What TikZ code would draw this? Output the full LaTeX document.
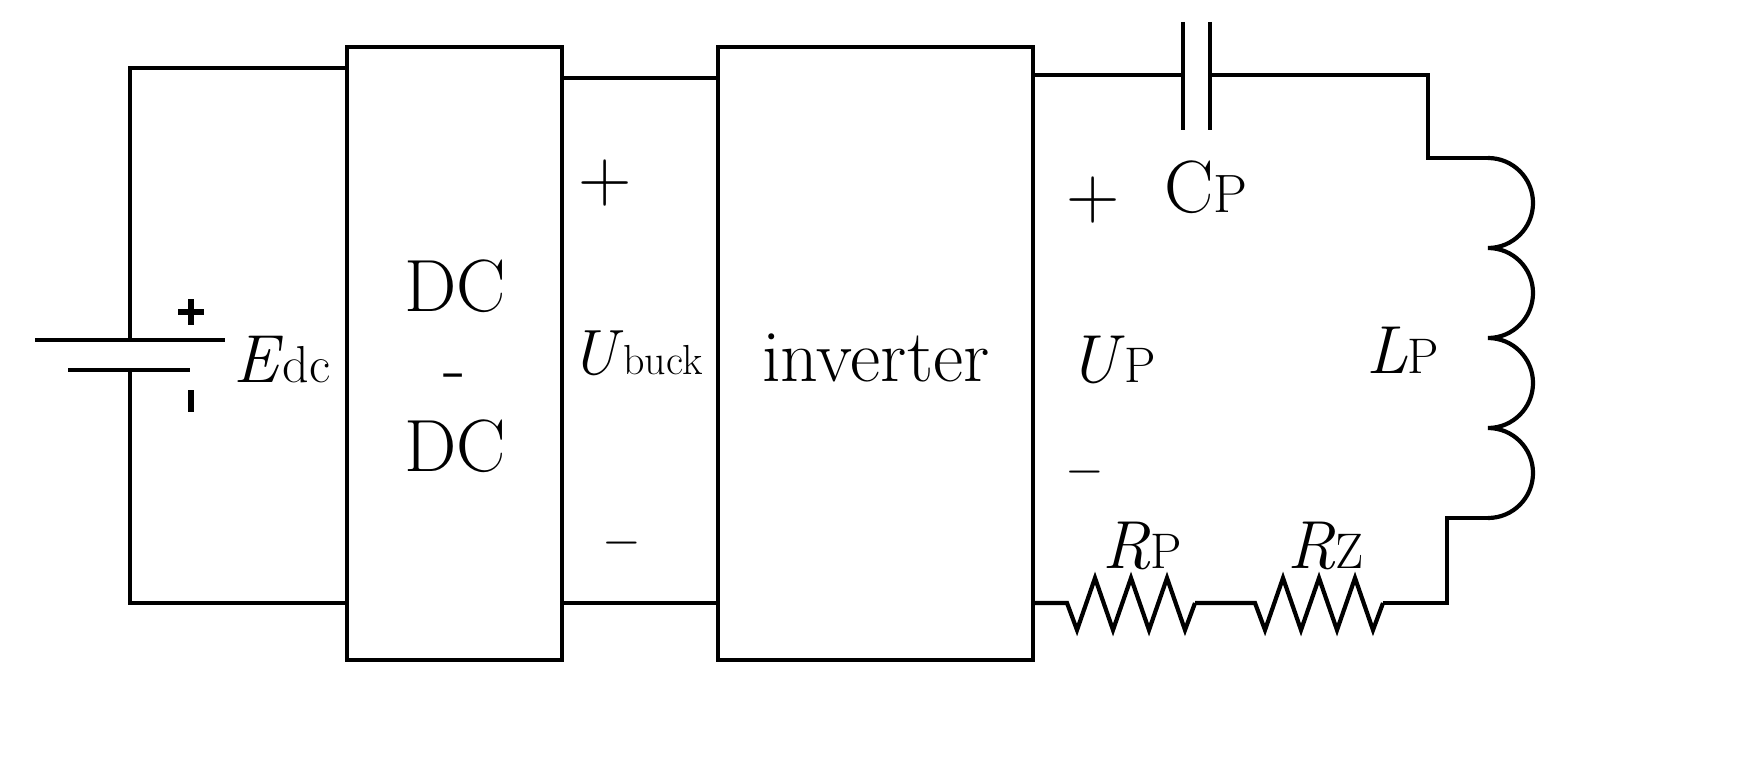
\documentclass[tikz,border=0pt]{standalone}
\begin{document}
\begin{tikzpicture}[x=0.5pt,y=-0.5pt,line width=2.1pt,
  lbl/.style={font=\fontsize{37}{40}\selectfont,inner sep=0pt},
  ital/.style={font=\fontsize{34}{40}\selectfont,inner sep=0pt},
  box/.style={draw,line width=2.1pt}]
\useasboundingbox (0,0) rectangle (1749,770);
% boxes
\draw[box] (347,47) rectangle (562,660);
\draw[box] (718,47) rectangle (1033,660);
\node[lbl,align=center] (dc) at (455,366) {DC\\-\\DC};
\node[lbl] (inv) at (876,358) {inverter};
% left loop with battery
\coordinate (bt) at (130,340); \coordinate (bb) at (130,370);
\draw (347,68) -- (130,68) -- (bt);
\draw (bb) -- (130,603) -- (347,603);
\draw (35,340) -- (225,340);
\draw (68,370) -- (190,370);
\draw[line width=2.6pt] (178,312) -- (204,312) (191,299) -- (191,325);
\draw[line width=2.6pt] (191,390) -- (191,412);
\node[ital,anchor=west] (edc) at (231,360) {\textit{E}\fontsize{26}{30}\selectfont dc};
% middle
\draw (562,78) -- (718,78);
\draw (562,603) -- (718,603);
\node[lbl] at (605,183) {+};
\node[ital,anchor=west] at (568,353) {\fontsize{32}{38}\selectfont\textit{U}\fontsize{21}{30}\selectfont buck};
\node[lbl] at (622,543) {$-$};
% right
\draw (1033,75) -- (1183,75);
\draw (1183,22) -- (1183,130) (1210,22) -- (1210,130);
\draw (1210,75) -- (1428,75) -- (1428,158) -- (1488,158);
\draw (1488,158) arc (-90:90:45 and 45) arc (-90:90:45 and 45) arc (-90:90:45 and 45) arc (-90:90:45 and 45);
\draw (1488,518) -- (1447,518) -- (1447,603) -- (1383,603);
\draw (1383,603) -- (1373,630) -- (1355,578) -- (1337,630) -- (1319,578) -- (1301,630) -- (1283,578) -- (1265,630) -- (1255,603) -- (1195,603);
\draw (1195,603) -- (1185,630) -- (1167,578) -- (1149,630) -- (1131,578) -- (1113,630) -- (1095,578) -- (1077,630) -- (1067,603) -- (1033,603);
\node[lbl] at (1093,200) {+};
\node[lbl] at (1085,472) {$-$};
\node[ital,anchor=west] at (1066,360) {\textit{U}\fontsize{25}{30}\selectfont P};
\node[lbl,anchor=west] at (1162,187) {C\fontsize{27}{32}\selectfont P};
\node[ital,anchor=west] at (1364,350) {\textit{L}\fontsize{25}{30}\selectfont P};
\node[ital,anchor=west] at (1100,546) {\textit{R}\fontsize{25}{30}\selectfont P};
\node[ital,anchor=west] at (1285,546) {\textit{R}\fontsize{25}{30}\selectfont Z};
\end{tikzpicture}
\end{document}
